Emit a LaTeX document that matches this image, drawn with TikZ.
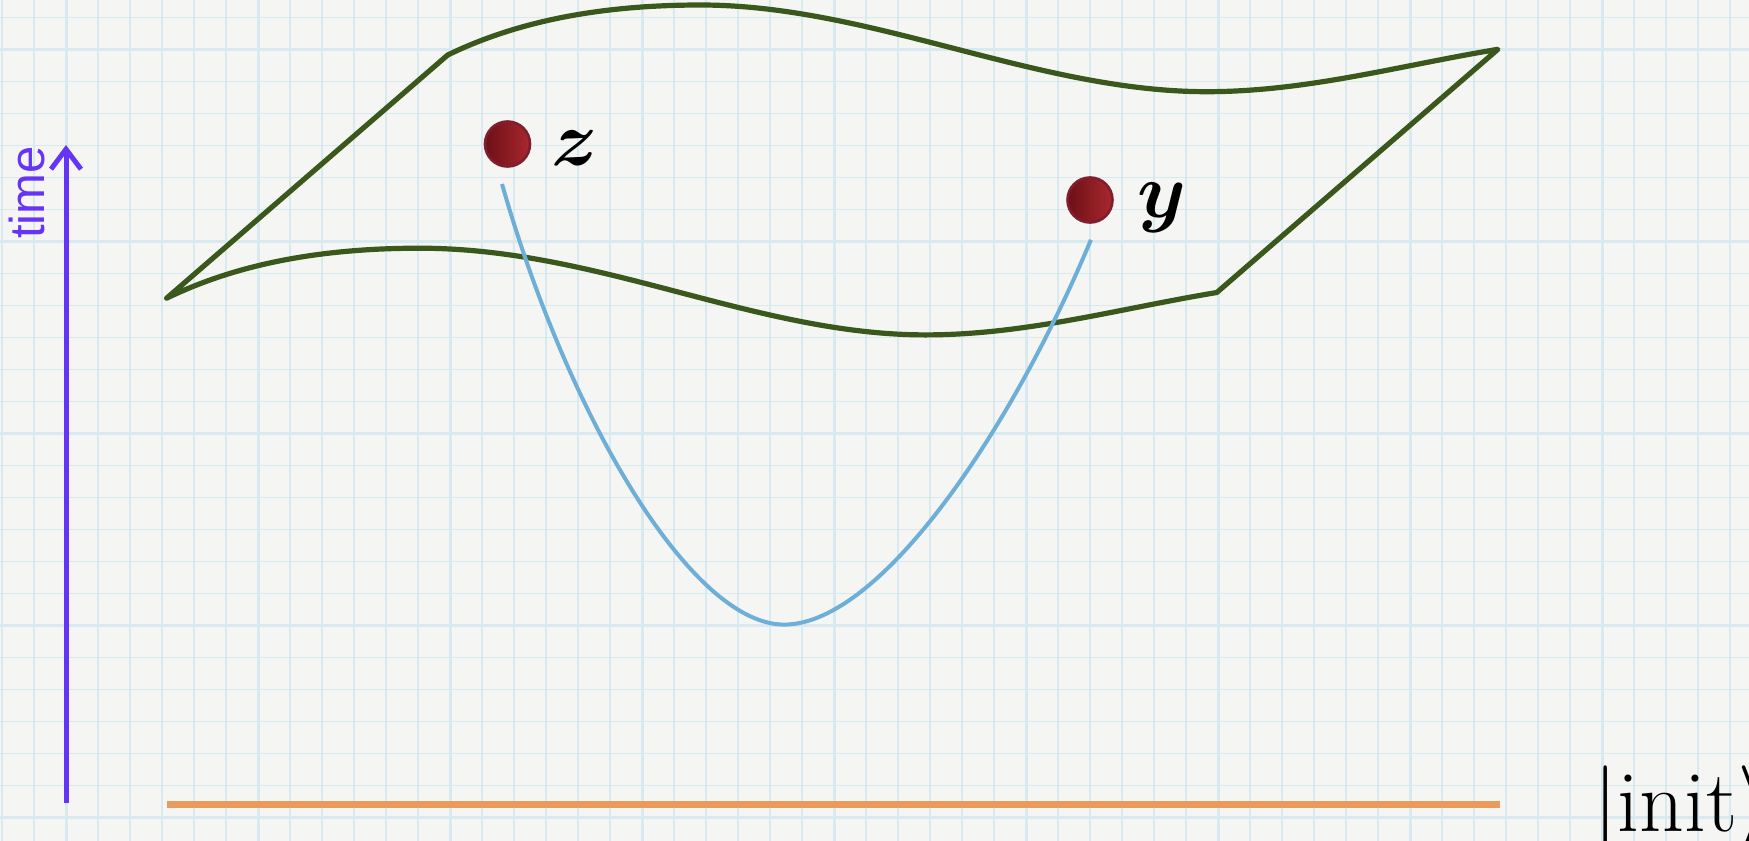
\documentclass[tikz,border=0pt]{standalone}
\usepackage{graphicx}
\usepackage{amsmath}
\usepackage{fontspec}
\newfontfamily\labelsans{Liberation Sans}
\usetikzlibrary{arrows.meta}
\definecolor{paper}{RGB}{245,245,244}
\definecolor{gridc}{RGB}{216,233,240}
\definecolor{surfgreen}{RGB}{58,88,28}
\definecolor{pathblue}{RGB}{110,175,215}
\definecolor{initorange}{RGB}{232,155,92}
\definecolor{timepurple}{RGB}{102,52,245}
\definecolor{dotdark}{RGB}{108,16,22}
\definecolor{dotlight}{RGB}{168,40,46}
\definecolor{dotring}{RGB}{128,30,48}
\tikzset{
  minorgrid/.style={draw=gridc, line width=1.5pt},
  majorgrid/.style={draw=gridc, line width=3pt},
  surface/.style={draw=surfgreen, line width=5.2pt, line join=round},
  worldline/.style={draw=pathblue, line width=4pt},
  event/.style={circle, minimum size=45pt, inner sep=0pt, line width=2.6pt,
    draw=dotring, left color=dotdark, right color=dotlight},
  eventlabel/.style={inner sep=0pt, anchor=base west, font=\Huge},
}
\begin{document}
\begin{tikzpicture}[x=1pt,y=-1pt]
\useasboundingbox (0,0) rectangle (1749,841);
\fill[paper] (0,0) rectangle (1749,841);
% grid
\foreach \k in {0,...,54} {
  \pgfmathsetmacro{\gx}{2+32*\k}
  \pgfmathtruncatemacro{\m}{mod(\k+4,6)}
  \ifnum\m=0
    \draw[majorgrid] (\gx,0) -- (\gx,841);
  \else
    \draw[minorgrid] (\gx,0) -- (\gx,841);
  \fi
}
\foreach \k in {0,...,26} {
  \pgfmathsetmacro{\gy}{17.3+32*\k}
  \pgfmathtruncatemacro{\m}{mod(\k+5,6)}
  \ifnum\m=0
    \draw[majorgrid] (0,\gy) -- (1749,\gy);
  \else
    \draw[minorgrid] (0,\gy) -- (1749,\gy);
  \fi
}
% surface
\coordinate (FL) at (166.6,298.2);
\coordinate (BL) at (447.7,55);
\coordinate (BR) at (1497.9,49.3);
\coordinate (FR) at (1216.8,292.5);
\coordinate (tpk) at (700.7,5);
\coordinate (tva) at (1206.7,91.7);
\coordinate (bpk) at (419.6,248.2);
\coordinate (bva) at (925.6,334.9);
\draw[surface] (FL) -- (BL)
  .. controls (517.7,21) and (600.7,5) .. (tpk)
  .. controls (870.7,5) and (1036.7,91.7) .. (tva)
  .. controls (1306.7,91.7) and (1397.9,65.9) .. (BR)
  -- (FR)
  .. controls (1116.8,309.1) and (1025.6,334.9) .. (bva)
  .. controls (755.6,334.9) and (599.6,248.2) .. (bpk)
  .. controls (319.6,248.2) and (236.6,264.2) .. (FL) -- cycle;
% world line
\coordinate (zs) at (502,184);
\coordinate (bot) at (784.1,624.6);
\coordinate (ys) at (1090.9,239.8);
\draw[worldline] (zs) .. controls (568.9,418.3) and (691.5,624.6) .. (bot)
  .. controls (881.2,624.6) and (1012.8,427.2) .. (ys);
% events
\node[event] (z) at (507.5,144) {};
\node[event] (y) at (1090,200) {};
\node[eventlabel] (zl) at (551,165) {\scalebox{3.13}{$\boldsymbol{z}$}};
\node[eventlabel] (yl) at (1137,217) {\scalebox{3.13}{$\boldsymbol{y}$}};
% time axis
\coordinate (t0) at (66,803);
\coordinate (t1) at (66,145);
\draw[timepurple, line width=5pt, -{Straight Barb[length=20pt,width=30pt]}] (t0) -- (t1);
\node[rotate=90, anchor=base, inner sep=0pt, text=timepurple,
  font=\labelsans\fontsize{49}{51}\selectfont] (time) at (44,192.5) {time};
% initial slice
\coordinate (i0) at (167,804);
\coordinate (i1) at (1500,804);
\draw[initorange, line width=7pt] (i0) -- (i1);
\node[inner sep=0pt, anchor=base west, font=\Huge] (init) at (1593,831) {\scalebox{3.52}{$|\mathrm{init}\rangle$}};
\end{tikzpicture}
\end{document}
